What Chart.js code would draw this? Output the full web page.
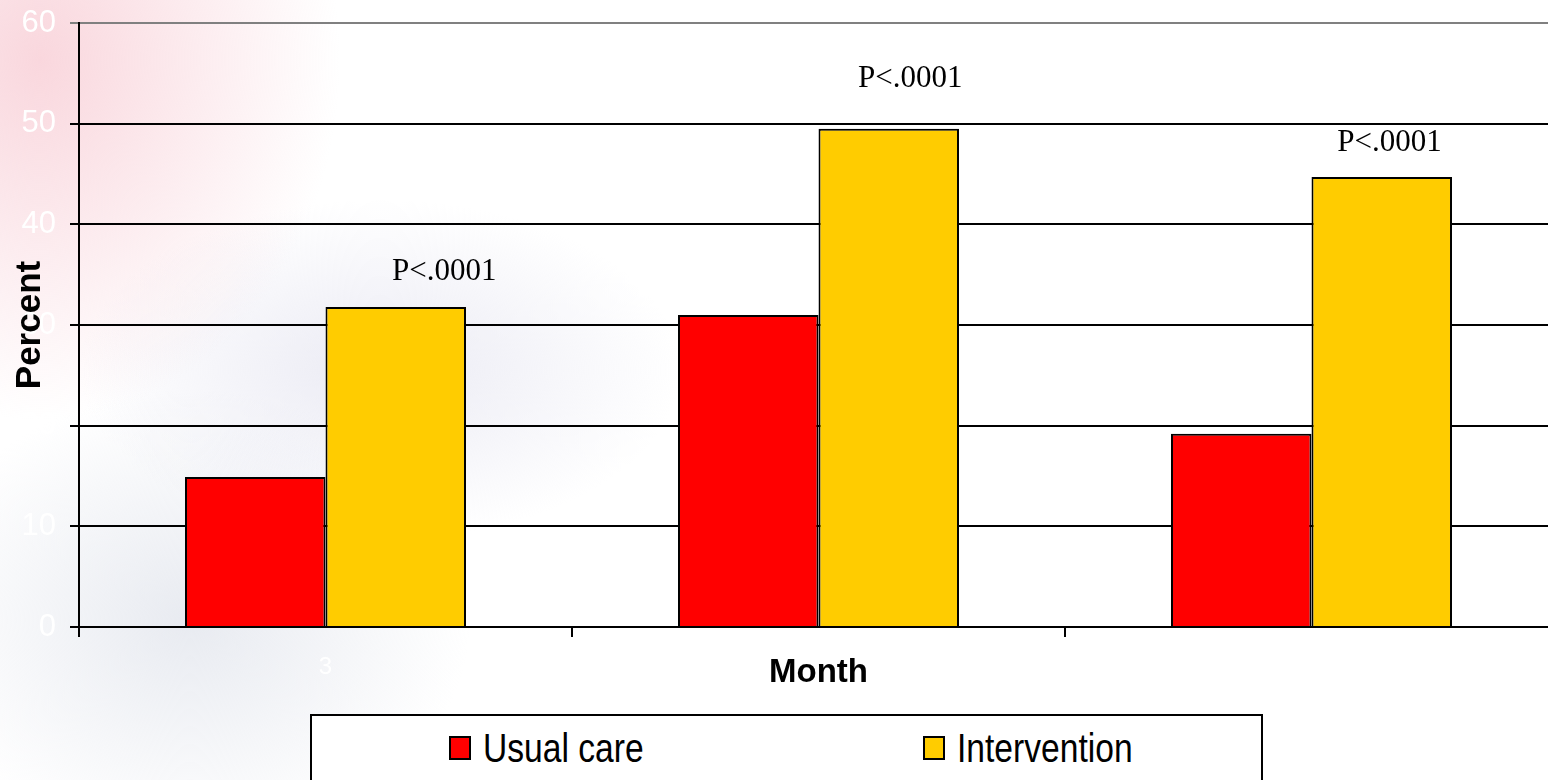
<!DOCTYPE html>
<html>
<head>
<meta charset="utf-8">
<script src="https://cdn.jsdelivr.net/npm/chart.js@4.4.1/dist/chart.umd.min.js"></script>
<style>
    html, body { margin: 0; padding: 0; width: 1548px; height: 780px; overflow: hidden; }
    body {
        background:
            radial-gradient(ellipse 300px 360px at 40px 60px, rgba(248, 205, 213, 0.8), rgba(248, 205, 213, 0) 100%),
            radial-gradient(ellipse 300px 170px at 380px 370px, rgba(226, 226, 239, 0.7), rgba(226, 226, 239, 0) 100%),
            radial-gradient(ellipse 280px 230px at 190px 620px, rgba(228, 231, 238, 0.85), rgba(228, 231, 238, 0) 100%),
            #ffffff;
    }
    #wrap { position: absolute; left: 0; top: 0; width: 1560px; height: 780px; }
    #legend {
        position: absolute; left: 310px; top: 714px; width: 953px; height: 90px;
        border: 2px solid #000; background: #fff; box-sizing: border-box;
    }
    .item { position: absolute; top: 12px; height: 40px; display: flex; align-items: center; }
    .swatch { width: 18px; height: 20px; border: 2px solid #000; margin-right: 12px; }
    .label {
        font-family: Arial, "Liberation Sans", sans-serif;
        font-size: 40px; line-height: 40px; color: #000;
        display: inline-block; transform: scaleX(0.84); transform-origin: left center;
    }
</style>
</head>
<body>
<div id="wrap"><canvas id="chart"></canvas></div>
<div id="legend"></div>

<script>
// ---------------- Datos ----------------
const months = ['3', '6', '12'];
const usualCare = [14.9, 31.0, 19.2];
const intervention = [31.8, 49.5, 44.7];

const pLabels = ['P<.0001', 'P<.0001', 'P<.0001'];
const pLabelValue = [35.3, 54.5, 48.1];
const pLabelOffset = [0.241, 0.186, 0.158];

const yTicks = [0, 10, 20, 30, 40, 50, 60];

const series = [
    { label: 'Usual care', data: usualCare, color: '#ff0000' },
    { label: 'Intervention', data: intervention, color: '#ffcc00' }
];

const sans = 'Arial, "Liberation Sans", sans-serif';

// ---------------- Plugins ----------------

const pValuePlugin = {
    id: 'pValues',
    afterDatasetsDraw(chart) {
        const { ctx, scales: { x, y } } = chart;
        ctx.save();
        ctx.font = '31px "Liberation Serif", "Times New Roman", serif';
        ctx.fillStyle = '#000';
        ctx.textAlign = 'center';
        ctx.textBaseline = 'middle';
        pLabels.forEach((text, i) => {
            ctx.fillText(text, x.getPixelForValue(i + pLabelOffset[i]), y.getPixelForValue(pLabelValue[i]));
        });
        ctx.restore();
    }
};

// titulos de ejes dibujados encima de las etiquetas blancas
const axisTitlesPlugin = {
    id: 'axisTitles',
    afterDraw(chart) {
        const { ctx, chartArea } = chart;
        ctx.save();
        ctx.fillStyle = '#000';
        ctx.textAlign = 'center';
        ctx.textBaseline = 'middle';

        ctx.font = 'bold 33px ' + sans;
        ctx.fillText('Month', (chartArea.left + chartArea.right) / 2, chartArea.bottom + 46);

        ctx.translate(30, (chartArea.top + chartArea.bottom) / 2);
        ctx.rotate(-Math.PI / 2);
        ctx.font = 'bold 35px ' + sans;
        ctx.fillText('Percent', 0, 0);
        ctx.restore();
    }
};

// ---------------- Gráfica ----------------

new Chart(document.getElementById('chart'), {
    type: 'bar',
    data: {
        labels: months,
        datasets: series.map(s => ({
            label: s.label,
            data: s.data,
            backgroundColor: s.color,
            borderColor: '#000',
            borderWidth: 2,
            categoryPercentage: 0.57,
            barPercentage: 1
        }))
    },
    options: {
        responsive: true,
        maintainAspectRatio: false,
        animation: false,
        layout: { padding: { top: 23, right: 2, bottom: 98, left: 0 } },
        plugins: {
            legend: { display: false },
            tooltip: { enabled: false }
        },
        scales: {
            x: {
                afterFit: s => { s.height = 55; s.paddingLeft = 0; s.paddingRight = 0; },
                grid: {
                    offset: true,
                    drawOnChartArea: false,
                    color: '#000',
                    lineWidth: 2,
                    tickLength: 10
                },
                border: { color: '#000', width: 2 },
                ticks: {
                    color: '#ffffff',
                    font: { family: sans, size: 24 },
                    padding: 16
                }
            },
            y: {
                min: 0,
                max: 60,
                afterFit: s => { s.width = 79; s.paddingTop = 0; s.paddingBottom = 0; },
                afterBuildTicks: s => { s.ticks = yTicks.map(v => ({ value: v })); },
                grid: {
                    color: c => c.tick && c.tick.value === 60 ? '#808080' : '#000',
                    lineWidth: 2,
                    tickLength: 9
                },
                border: { color: '#000', width: 2 },
                ticks: {
                    color: '#ffffff',
                    font: { family: sans, size: 31 },
                    padding: 14
                }
            }
        }
    },
    plugins: [pValuePlugin, axisTitlesPlugin]
});

// ---------------- Leyenda ----------------

const legendLeft = [137, 611];
const legend = document.getElementById('legend');
series.forEach((s, i) => {
    const item = document.createElement('div');
    item.className = 'item';
    item.style.left = legendLeft[i] + 'px';
    item.innerHTML = `<span class="swatch" style="background:${s.color}"></span><span class="label">${s.label}</span>`;
    legend.appendChild(item);
});
</script>
</body>
</html>
